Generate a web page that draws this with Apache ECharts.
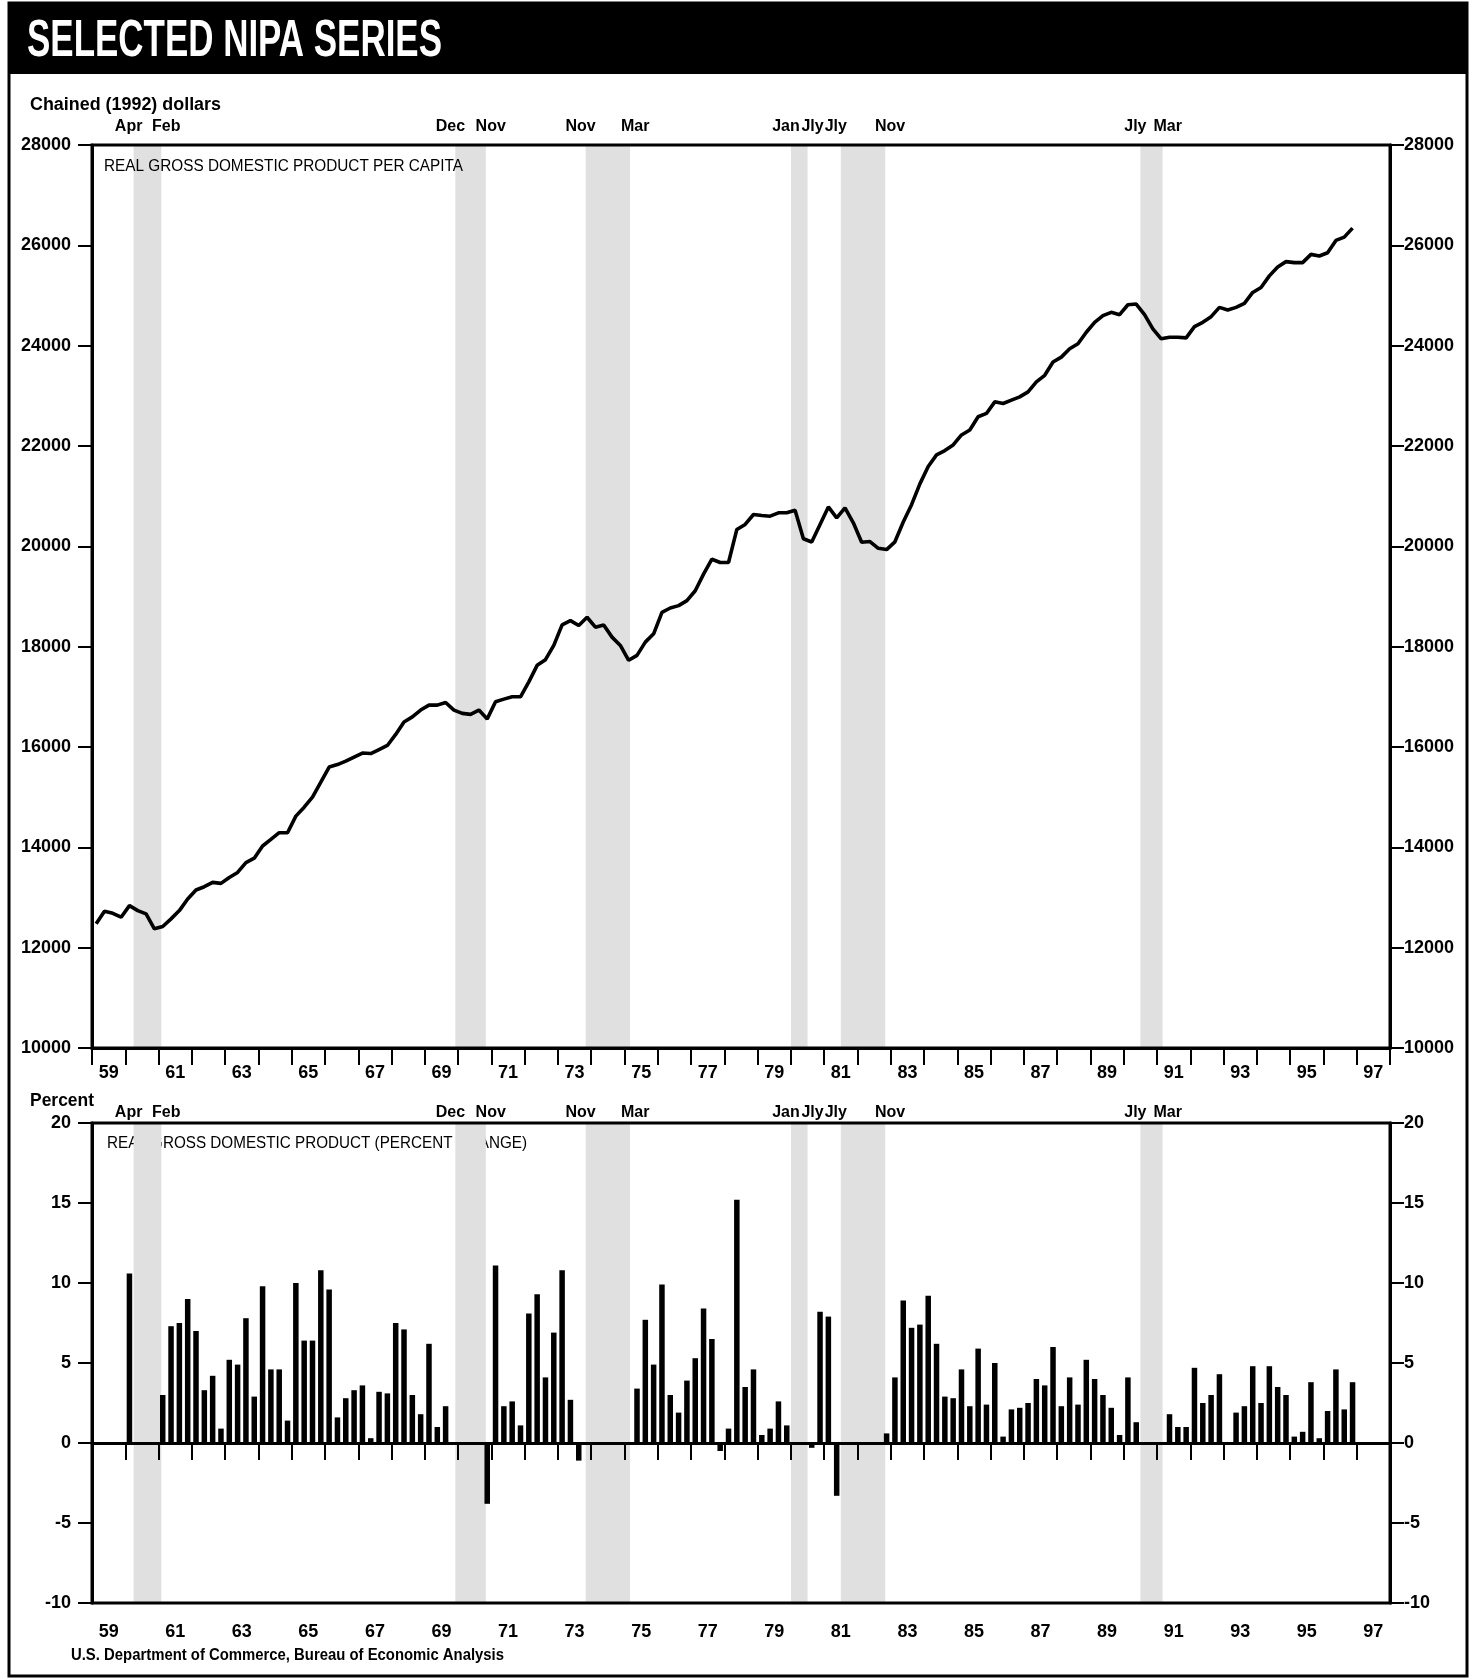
<!DOCTYPE html>
<html>
<head>
<meta charset="utf-8">
<title>Selected NIPA Series</title>
<script src="https://cdn.jsdelivr.net/npm/echarts@6/dist/echarts.min.js"></script>
<style>
  html, body { margin: 0; padding: 0; background: #fff; }
  #chart { width: 1477px; height: 1680px; }
</style>
</head>
<body>
<div id="chart"></div>
<script>
const FONT = '"Liberation Sans", Arial, Helvetica, sans-serif'

// year tick labels (one band per year, label every other year)
const yearLabels = ['59', '60', '61', '62', '63', '64', '65', '66', '67', '68',
  '69', '70', '71', '72', '73', '74', '75', '76', '77', '78',
  '79', '80', '81', '82', '83', '84', '85', '86', '87', '88',
  '89', '90', '91', '92', '93', '94', '95', '96', '97']
const firstYear = 1959

// real GDP per capita, chained (1992) dollars, quarterly from 1959 Q1
const gdpPerCapita = [
  12475, 12726, 12686, 12607, // 1959
  12838, 12739, 12673, 12376, // 1960
  12422, 12574, 12739, 12970, // 1961
  13149, 13215, 13301, 13281, // 1962
  13400, 13499, 13697, 13783, // 1963
  14027, 14159, 14292, 14292, // 1964
  14622, 14800, 15000, 15300, // 1965
  15600, 15650, 15720, 15800, // 1966
  15880, 15870, 15950, 16030, // 1967
  16250, 16500, 16600, 16736, // 1968
  16835, 16835, 16888, 16736, // 1969
  16670, 16651, 16736, 16560, // 1970
  16902, 16954, 17001, 17001, // 1971
  17298, 17628, 17741, 18025, // 1972
  18434, 18520, 18421, 18586, // 1973
  18388, 18434, 18190, 18025, // 1974
  17728, 17827, 18091, 18256, // 1975
  18685, 18771, 18818, 18917, // 1976
  19115, 19445, 19743, 19677, // 1977
  19677, 20337, 20436, 20635, // 1978
  20615, 20601, 20668, 20668, // 1979
  20720, 20152, 20086, 20436, // 1980
  20786, 20568, 20767, 20469, // 1981
  20080, 20095, 19960, 19935, // 1982
  20090, 20485, 20830, 21245, // 1983
  21592, 21823, 21909, 22021, // 1984
  22220, 22319, 22583, 22649, // 1985
  22880, 22847, 22913, 22979, // 1986
  23079, 23277, 23409, 23673, // 1987
  23772, 23937, 24037, 24268, // 1988
  24466, 24598, 24664, 24618, // 1989
  24816, 24829, 24618, 24334, // 1990
  24136, 24169, 24169, 24155, // 1991
  24380, 24466, 24578, 24763, // 1992
  24710, 24763, 24843, 25061, // 1993
  25160, 25391, 25569, 25675, // 1994
  25655, 25655, 25820, 25787, // 1995
  25853, 26098, 26164, 26343  // 1996
]

// real GDP, percent change, quarterly from 1959 Q1 (null = not visible in the source)
const gdpPctChange = [
  null, null, null, null, // 1959
  10.6, null, null, null, // 1960
  3.0, 7.3, 7.5, 9.0,     // 1961
  7.0, 3.3, 4.2, 0.9,     // 1962
  5.2, 4.9, 7.8, 2.9,     // 1963
  9.8, 4.6, 4.6, 1.4,     // 1964
  10.0, 6.4, 6.4, 10.8,   // 1965
  9.6, 1.6, 2.8, 3.3,     // 1966
  3.6, 0.3, 3.2, 3.1,     // 1967
  7.5, 7.1, 3.0, 1.8,     // 1968
  6.2, 1.0, 2.3, null,    // 1969
  null, null, null, -3.8, // 1970
  11.1, 2.3, 2.6, 1.1,    // 1971
  8.1, 9.3, 4.1, 6.9,     // 1972
  10.8, 2.7, -1.1, null,  // 1973
  null, null, null, null, // 1974
  null, 3.4, 7.7, 4.9,    // 1975
  9.9, 3.0, 1.9, 3.9,     // 1976
  5.3, 8.4, 6.5, -0.5,    // 1977
  0.9, 15.2, 3.5, 4.6,    // 1978
  0.5, 0.9, 2.6, 1.1,     // 1979
  null, null, -0.3, 8.2,  // 1980
  7.9, -3.3, null, null,  // 1981
  null, null, null, 0.6,  // 1982
  4.1, 8.9, 7.2, 7.4,     // 1983
  9.2, 6.2, 2.9, 2.8,     // 1984
  4.6, 2.3, 5.9, 2.4,     // 1985
  5.0, 0.4, 2.1, 2.2,     // 1986
  2.5, 4.0, 3.6, 6.0,     // 1987
  2.3, 4.1, 2.4, 5.2,     // 1988
  4.0, 3.0, 2.2, 0.5,     // 1989
  4.1, 1.3, null, null,   // 1990
  null, 1.8, 1.0, 1.0,    // 1991
  4.7, 2.5, 3.0, 4.3,     // 1992
  -0.1, 1.9, 2.3, 4.8,    // 1993
  2.5, 4.8, 3.5, 3.0,     // 1994
  0.4, 0.7, 3.8, 0.3,     // 1995
  2.0, 4.6, 2.1, 3.8      // 1996
]

// recessions: peak and trough months
const peakNames = ['Apr', 'Dec', 'Nov', 'Jan', 'Jly', 'Jly']
const peakDates = [[1960, 4], [1969, 12], [1973, 11], [1980, 1], [1981, 7], [1990, 7]]
const troughNames = ['Feb', 'Nov', 'Mar', 'Jly', 'Nov', 'Mar']
const troughDates = [[1961, 2], [1970, 11], [1975, 3], [1980, 7], [1982, 11], [1991, 3]]

const toYear = (d) => d[0] + (d[1] - 1) / 12
const quarterX = (i) => firstYear + Math.floor(i / 4) + ((i % 4) + 0.5) / 4

const lineData = gdpPerCapita.map((v, i) => [quarterX(i), v])
const barData = []
gdpPctChange.forEach((v, i) => {
  if (v !== null) barData.push([quarterX(i), v])
})

const shadeAreas = peakDates.map((d, i) => [{ xAxis: toYear(d) }, { xAxis: toYear(troughDates[i]) }])

function monthLabels(distance) {
  let items = []
  peakDates.forEach((d, i) => {
    items.push({ name: peakNames[i], xAxis: toYear(d), label: { padding: [0, 10, 0, 0] } })
    items.push({ name: troughNames[i], xAxis: toYear(troughDates[i]), label: { padding: [0, 0, 0, 10] } })
  })
  return {
    silent: true,
    symbol: ['none', 'none'],
    lineStyle: { color: 'rgba(0,0,0,0)', width: 0 },
    label: {
      show: true,
      position: 'end',
      distance: distance,
      formatter: '{b}',
      color: '#000',
      fontFamily: FONT,
      fontWeight: 'bold',
      fontSize: 16
    },
    data: items
  }
}

const shadeColor = '#e0e0e0'
const axisFont = { color: '#000', fontFamily: FONT, fontWeight: 'bold', fontSize: 18 }

function yAxisPair(grid, min, max, interval) {
  let base = {
    gridIndex: grid,
    type: 'value',
    min: min,
    max: max,
    interval: interval,
    splitLine: { show: false },
    axisLine: { show: true, lineStyle: { color: '#000', width: 3 } },
    axisTick: { show: true, length: 14, lineStyle: { color: '#000', width: 2 } },
    z: 5
  }
  let fmt = (v) => String(v)
  return [
    Object.assign({}, base, { position: 'left', axisLabel: Object.assign({ margin: 21, formatter: fmt }, axisFont) }),
    Object.assign({}, base, { position: 'right', axisLabel: Object.assign({ margin: 14, formatter: fmt }, axisFont) })
  ]
}

function xAxisPair(grid, margin) {
  return [
    { gridIndex: grid, type: 'value', min: 1959, max: 1998, show: false },
    {
      gridIndex: grid,
      type: 'category',
      data: yearLabels,
      position: 'bottom',
      boundaryGap: true,
      axisLine: { show: true, lineStyle: { color: '#000', width: 3 } },
      axisTick: { show: true, interval: 0, length: 17, lineStyle: { color: '#000', width: 2 } },
      axisLabel: Object.assign({ interval: 1, margin: margin }, axisFont),
      z: 5
    }
  ]
}

const chart = echarts.init(document.getElementById('chart'), null, { renderer: 'canvas' })

// squeeze a text to the condensed width of the original print
const measure = document.createElement('canvas').getContext('2d')
function fitText(text, font, width, x, y, fill, z) {
  measure.font = font
  let s = width / measure.measureText(text).width
  return {
    type: 'text', x: x, y: y, scaleX: s, z: z,
    style: { text: text, fill: fill, font: font, textVerticalAlign: 'middle' }
  }
}

chart.setOption({
  animation: false,
  backgroundColor: '#fff',
  grid: [
    { left: 92, top: 145, width: 1298, height: 903, show: true, borderColor: '#000', borderWidth: 3, z: 6 },
    { left: 92, top: 1123, width: 1298, height: 480, show: true, borderColor: '#000', borderWidth: 3, z: 6 }
  ],
  xAxis: [].concat(xAxisPair(0, 16), xAxisPair(1, 20)),
  yAxis: [].concat(yAxisPair(0, 10000, 28000, 2000), yAxisPair(1, -10, 20, 5)),
  series: [
    {
      name: 'shade top',
      type: 'line',
      xAxisIndex: 0,
      yAxisIndex: 0,
      data: [],
      z: 1,
      markArea: { silent: true, itemStyle: { color: shadeColor }, data: shadeAreas },
      markLine: monthLabels(10)
    },
    {
      name: 'Real gross domestic product per capita',
      type: 'line',
      xAxisIndex: 0,
      yAxisIndex: 0,
      data: lineData,
      showSymbol: false,
      symbol: 'none',
      lineStyle: { color: '#000', width: 3.6 },
      z: 3
    },
    {
      name: 'zero line',
      type: 'line',
      xAxisIndex: 2,
      yAxisIndex: 2,
      data: [],
      z: 1,
      markLine: {
        silent: true,
        symbol: ['none', 'none'],
        label: { show: false },
        lineStyle: { color: '#000', width: 1.5, type: 'solid' },
        data: [{ yAxis: 0 }]
      }
    },
    {
      name: 'shade bottom',
      type: 'line',
      xAxisIndex: 2,
      yAxisIndex: 2,
      data: [],
      z: 2,
      markArea: { silent: true, itemStyle: { color: shadeColor }, data: shadeAreas },
      markLine: monthLabels(2)
    },
    {
      name: 'Real gross domestic product (percent change)',
      type: 'bar',
      xAxisIndex: 2,
      yAxisIndex: 2,
      data: barData,
      barWidth: 5.5,
      itemStyle: { color: '#000' },
      z: 3
    }
  ],
  graphic: [
    { type: 'rect', shape: { x: 9, y: 3, width: 1458, height: 1673 }, style: { fill: 'none', stroke: '#000', lineWidth: 3 }, z: 10 },
    { type: 'rect', shape: { x: 9, y: 4, width: 1458, height: 70 }, style: { fill: '#000' }, z: 10 },
    fitText('SELECTED NIPA SERIES', 'bold 52px ' + FONT, 415, 27, 42, '#fff', 11),
    fitText('Chained (1992) dollars', 'bold 18px ' + FONT, 191, 30, 105, '#000', 11),
    fitText('REAL GROSS DOMESTIC PRODUCT PER CAPITA', '16px ' + FONT, 359, 104, 167, '#000', 11),
    fitText('Percent', 'bold 18px ' + FONT, 64, 30, 1101, '#000', 11),
    fitText('REAL GROSS DOMESTIC PRODUCT (PERCENT CHANGE)', '16px ' + FONT, 420, 107, 1144, '#000', 1),
    fitText('U.S. Department of Commerce, Bureau of Economic Analysis', 'bold 17px ' + FONT, 433, 71, 1655, '#000', 11)
  ]
})
</script>
</body>
</html>
